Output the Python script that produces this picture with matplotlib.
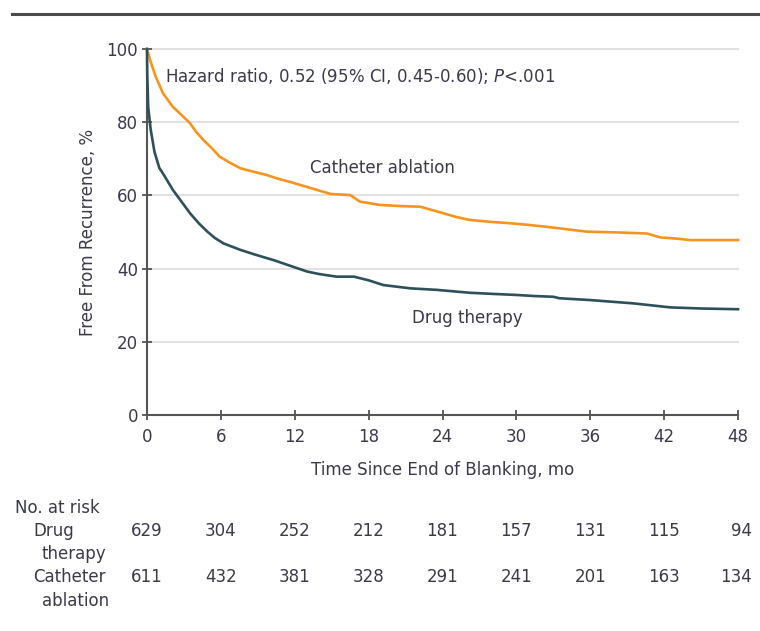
import matplotlib
matplotlib.use("Agg")
import matplotlib.pyplot as plt
from matplotlib.lines import Line2D
from matplotlib.transforms import blended_transform_factory
from matplotlib import font_manager

# Kaplan-Meier curves (months, % free from recurrence)
catheter_t = [0, 0.3, 0.7, 1.3, 2.1, 2.8, 3.5, 4.0, 4.6, 5.3, 5.9, 6.7, 7.6, 8.6, 9.7,
              10.6, 11.6, 13.0, 14.0, 14.9, 16.5, 17.3, 18.9, 20.5, 22.2, 24.0, 25.0,
              26.2, 27.8, 29.5, 31.1, 32.5, 33.5, 35.7, 38.0, 40.6, 41.7, 43.0, 44.1, 48.0]
catheter_v = [100, 96.5, 92.5, 87.9, 84.2, 82.0, 79.7, 77.3, 75.1, 72.8, 70.6, 69.0, 67.4,
              66.5, 65.6, 64.6, 63.7, 62.3, 61.3, 60.4, 60.1, 58.3, 57.4, 57.1, 56.9, 55.2,
              54.2, 53.3, 52.8, 52.4, 51.9, 51.4, 51.0, 50.1, 49.9, 49.6, 48.5, 48.2, 47.8, 47.8]

drug_t = [0, 0.02, 0.1, 0.3, 0.6, 1.0, 1.2, 1.6, 2.1, 2.8, 3.5, 4.2, 4.9, 5.5, 6.2, 7.6,
          8.8, 10.3, 11.6, 13.0, 14.0, 15.4, 16.8, 18.0, 19.2, 21.4, 23.5, 26.2, 28.0,
          30.0, 31.5, 33.0, 33.5, 36.0, 39.5, 40.6, 42.5, 45.0, 48.0]
drug_v = [100, 93, 84, 78, 72, 67.5, 66.5, 64.3, 61.5, 58.3, 55.1, 52.4, 50.1, 48.4, 46.9,
          45.1, 43.8, 42.3, 40.8, 39.2, 38.5, 37.8, 37.8, 36.8, 35.5, 34.6, 34.2, 33.4,
          33.1, 32.8, 32.5, 32.3, 31.9, 31.4, 30.5, 30.1, 29.4, 29.1, 28.9]

risk_times = [0, 6, 12, 18, 24, 30, 36, 42, 48]
risk_drug = [629, 304, 252, 212, 181, 157, 131, 115, 94]
risk_catheter = [611, 432, 381, 328, 291, 241, 201, 163, 134]

orange = "#F7941D"
teal = "#2E505A"
text_col = "#3A3A4A"
names = {f.name for f in font_manager.fontManager.ttflist}
if "DejaVu Sans Condensed" in names:
    plt.rcParams["font.family"] = ["DejaVu Sans Condensed", "DejaVu Sans"]
    fs = 13.5
else:
    plt.rcParams["font.family"] = ["DejaVu Sans"]
    fs = 12

fig = plt.figure(figsize=(7.6, 6.31), dpi=100)
ax = fig.add_axes([147 / 760, 1 - 415 / 631, 591 / 760, 366 / 631])

ax.plot(catheter_t, catheter_v, color=orange, lw=1.9, solid_joinstyle="miter", zorder=3, clip_on=False)
ax.plot(drug_t, drug_v, color=teal, lw=1.9, solid_joinstyle="miter", zorder=4, clip_on=False)

ax.set_xlim(0, 48)
ax.set_ylim(0, 100)
ax.set_xticks(risk_times)
ax.set_yticks([0, 20, 40, 60, 80, 100])
for y in [20, 40, 60, 80, 100]:
    ax.axhline(y, color="#E2E2E2", lw=1.5, zorder=1, clip_on=False)

for s in ["top", "right"]:
    ax.spines[s].set_visible(False)
for s in ["left", "bottom"]:
    ax.spines[s].set_color("#555555")
    ax.spines[s].set_linewidth(1.5)
ax.tick_params(direction="inout", length=7, width=1.3, color="#555555",
               labelsize=fs, labelcolor=text_col)
ax.tick_params(axis="x", pad=6)
ax.tick_params(axis="y", pad=3)

ax.set_xlabel("Time Since End of Blanking, mo", fontsize=fs, color=text_col, labelpad=11)
ax.set_ylabel("Free From Recurrence, %", fontsize=fs, color=text_col, labelpad=7)

ax.text(1.5, 92.5, "Hazard ratio, 0.52 (95% CI, 0.45-0.60); $\\mathit{P}$<.001",
        fontsize=fs, color=text_col, va="center", ha="left")
ax.text(13.2, 67.5, "Catheter ablation", fontsize=fs, color=text_col, va="center", ha="left")
ax.text(21.5, 26.5, "Drug therapy", fontsize=fs, color=text_col, va="center", ha="left")

# header rule
fig.add_artist(Line2D([12 / 760, 1], [1 - 14 / 631] * 2, transform=fig.transFigure,
                      color="#4A4A4A", lw=2.2))

# number at risk table
tr = blended_transform_factory(ax.transData, fig.transFigure)
fy = lambda p: 1 - p / 631
fig.text(15 / 760, fy(508), "No. at risk", fontsize=fs, color=text_col, va="center")
fig.text(33 / 760, fy(531), "Drug", fontsize=fs, color=text_col, va="center")
fig.text(42 / 760, fy(554), "therapy", fontsize=fs, color=text_col, va="center")
fig.text(33 / 760, fy(577), "Catheter", fontsize=fs, color=text_col, va="center")
fig.text(42 / 760, fy(601), "ablation", fontsize=fs, color=text_col, va="center")
for t, d, c in zip(risk_times, risk_drug, risk_catheter):
    ha = "right" if t == 48 else "center"
    xo = 1.1 if t == 48 else 0
    fig.text(t + xo, fy(531), str(d), transform=tr, fontsize=fs, color=text_col, va="center", ha=ha)
    fig.text(t + xo, fy(577), str(c), transform=tr, fontsize=fs, color=text_col, va="center", ha=ha)

fig.savefig("out.png", dpi=100)
